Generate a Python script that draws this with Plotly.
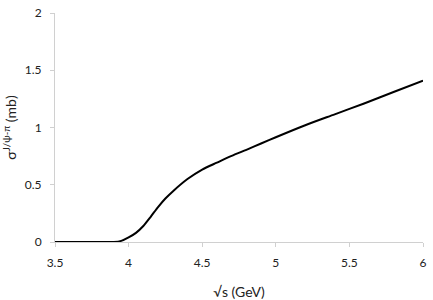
import plotly.graph_objects as go

sqrt_s = [3.5, 3.6, 3.7, 3.8, 3.9, 3.95, 4.0, 4.05, 4.1, 4.15, 4.2, 4.25, 4.3, 4.4, 4.5,
          4.6, 4.7, 4.8, 4.9, 5.0, 5.2, 5.4, 5.6, 5.8, 6.0]
sigma = [0, 0, 0, 0, 0, 0.01, 0.04, 0.08, 0.14, 0.22, 0.305, 0.38, 0.442, 0.55, 0.633,
         0.693, 0.752, 0.805, 0.86, 0.915, 1.02, 1.115, 1.21, 1.31, 1.41]
x_ticks = [3.5, 4, 4.5, 5, 5.5, 6]
y_ticks = [0, 0.5, 1, 1.5, 2]

fig = go.Figure()
fig.add_trace(go.Scatter(x=sqrt_s, y=sigma, mode="lines",
                         line=dict(color="black", width=2, shape="spline", smoothing=0.7),
                         showlegend=False, cliponaxis=False))

font = dict(family="Lato, Open Sans, sans-serif", size=12, color="#222")
fig.update_layout(
    width=433, height=300,
    margin=dict(l=55, r=10, t=13, b=58),
    paper_bgcolor="white", plot_bgcolor="white",
    font=font,
    xaxis=dict(range=[3.5, 6], tickvals=x_ticks, ticktext=[str(v) for v in x_ticks],
               automargin=False, ticklabelstandoff=6,
               showgrid=False, zeroline=False, showline=True, linecolor="#d0d0d0",
               ticks="outside", ticklen=4, tickcolor="#d0d0d0",
               title=dict(text="√s (GeV)", standoff=22, font=dict(size=14))),
    yaxis=dict(range=[0, 2], tickvals=y_ticks, ticktext=[str(v) for v in y_ticks],
               automargin=False, ticklabelstandoff=6,
               showgrid=False, zeroline=False, showline=True, linecolor="#d0d0d0",
               ticks="outside", ticklen=4, tickcolor="#d0d0d0",
               title=dict(text="σ<sup>J/ψ-π</sup> (mb)", standoff=8, font=dict(size=14))),
)
fig.write_html("out.html", config={"displayModeBar": False},
               post_script="document.body.style.margin='0';")
